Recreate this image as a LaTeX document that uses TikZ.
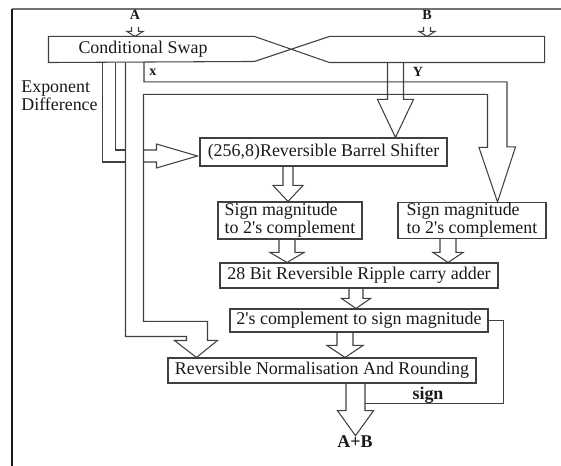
\documentclass[tikz,border=0pt]{standalone}
\usepackage{fontspec}
\setmainfont{Liberation Serif}
\usepackage{tikz}
\usetikzlibrary{calc}

% hollow block arrow pointing down: from, tip, stem half width, head half width, head length
\newcommand{\hollowdown}[5]{%
  \draw[pipe] ($(#1)+(-#3,0)$) -- ($(#2)+(-#3,-#5)$) -- ($(#2)+(-#4,-#5)$) -- (#2)
    -- ($(#2)+(#4,-#5)$) -- ($(#2)+(#3,-#5)$) -- ($(#1)+(#3,0)$);}

\begin{document}
\begin{tikzpicture}[x=0.2mm, y=-0.2mm,
    pipe/.style={draw=black!75, line width=0.6pt},
    box/.style 2 args={draw=black!75, line width=0.6pt, rectangle, inner sep=0pt,
        minimum width=#1*0.2mm, minimum height=#2*0.2mm,
        font=\fontsize{10.2}{10.4}\selectfont, text=black!90},
    lbl/.style={inner sep=0pt, font=\fontsize{10.2}{10.4}\selectfont, text=black!90},
    io/.style={inner sep=0pt, font=\fontsize{8}{9}\selectfont\bfseries, text=black!90}]
    \useasboundingbox (0,0) rectangle (561,466);

    % frame
    \draw[line width=1.4pt, black!55] (12,9) -- (561,9);
    \draw[line width=1pt, black!90] (12,9) -- (12,466);

    % inputs
    \node[io] (Alab) at (135,15) {A};
    \node[io] (Blab) at (427,15) {B};

    % conditional swap
    \node[box={495}{25}, draw=none] (swap) at (296.5,49.5) {};
    \draw[pipe] (swap.north west) -- ++(206,0) -- ($(swap.south west)+(281,0)$)
        -- (swap.south east) -- (swap.north east) -- ($(swap.north west)+(281,0)$)
        -- ++(-75,25) -- (swap.south west) -- cycle;
    \node[lbl] (swaptxt) at (143,49) {Conditional Swap};

    % blocks
    \node[box={247}{28}] (bs) at (323.5,152) {(256,8)Reversible Barrel Shifter};
    \node[box={144}{37}, align=left] (smL) at (290,220.5) {Sign magnitude\\to 2\textquotesingle s complement};
    \node[box={148}{36}, align=left] (smR) at (472,220.5) {Sign magnitude\\to 2\textquotesingle s complement};
    \node[box={278}{25}] (add) at (359,275.5) {28 Bit Reversible Ripple carry adder};
    \node[box={258}{23}] (tc) at (359,320.5) {2\textquotesingle s complement to sign magnitude};
    \node[box={308}{25}] (norm) at (322,370.5) {Reversible Normalisation And Rounding};

    % labels
    \node[io] (xlab) at (153,72) {x};
    \node[io] (ylab) at (418,72) {Y};
    \node[lbl, align=left, anchor=west, font=\fontsize{10.2}{9.3}\selectfont] (expd) at (21,96) {Exponent\\Difference};
    \node[lbl, font=\fontsize{10.2}{10.4}\selectfont\bfseries] (sum) at (355,442) {A+B};
    \node[lbl, font=\fontsize{10.2}{10.4}\selectfont\bfseries] (sgn) at (428,395) {sign};

    % A and B into the swap
    \coordinate (a0) at ($(Alab)+(0,12)$);
    \coordinate (b1) at ($(Blab)+(0,12)$);
    \hollowdown{a0}{a0 |- swap.north}{3.5}{8}{5}
    \hollowdown{b1}{b1 |- swap.north}{3.5}{8}{5}

    % x branch: to normalisation and to right converter
    \coordinate (xs) at ($(swap.south west)+(77,0)$);
    \coordinate (xn) at ($(norm.north west)+(29,0)$);
    \coordinate (xr) at ($(smR.north)+(25.5,0)$);
    \draw[pipe] (xs) -- ++(0,274) -- ++(61,0) -- ++(0,4) -- ++(-12,0) -- (xn)
        -- ++(21,-17) -- ++(-10,0) -- ++(0,-19) -- ++(-64,0) -- ++(0,-227)
        -- ++(344,0) -- ++(0,53) -- ++(-8.5,0) -- (xr) -- ++(18,-55)
        -- ++(-8.5,0) -- ++(0,-65) -- ++(-363,0) -- ++(0,-20);

    % exponent difference into the shifter
    \coordinate (ed) at ($(bs.west)+(-2,4)$);
    \draw[pipe] ($(swap.south west)+(67,0)$) |- ($(ed)+(-72,-6)$);
    \draw[pipe] ($(ed)+(-54,-6)$) -- ++(13,0) -- ++(0,-6) -- (ed)
        -- ($(ed)+(-41,12)$) -- ++(0,-6) -- ++(-13,0);
    \draw[pipe] ($(ed)+(-72,6)$) -| ($(swap.south west)+(54,0)$);

    % Y into the shifter
    \coordinate (y0) at ($(swap.south west)+(347,0)$);
    \hollowdown{y0}{y0 |- bs.north}{8}{18}{38}

    % datapath
    \coordinate (b0) at ($(bs.south)+(-35.5,0)$);
    \hollowdown{b0}{b0 |- smL.north}{5}{15}{16}
    \coordinate (s1) at ($(smL.south)+(-3,0)$);
    \hollowdown{s1}{s1 |- add.north}{8}{17}{10}
    \coordinate (s2) at ($(smR.south)+(-24,0)$);
    \hollowdown{s2}{s2 |- add.north}{8}{15}{10}
    \coordinate (c0) at ($(add.south)+(-3,0)$);
    \hollowdown{c0}{c0 |- tc.north}{7}{14.5}{10}
    \coordinate (t0) at ($(tc.south)+(-14,0)$);
    \hollowdown{t0}{t0 |- norm.north}{8}{18}{12}
    \coordinate (n0) at ($(norm.south)+(33.5,0)$);
    \hollowdown{n0}{n0 |- sum.north}{9.5}{18}{25}

    % sign
    \draw[pipe] (tc.east) -- ++(15,0) |- ($(n0)+(9.5,20)$);
\end{tikzpicture}
\end{document}
